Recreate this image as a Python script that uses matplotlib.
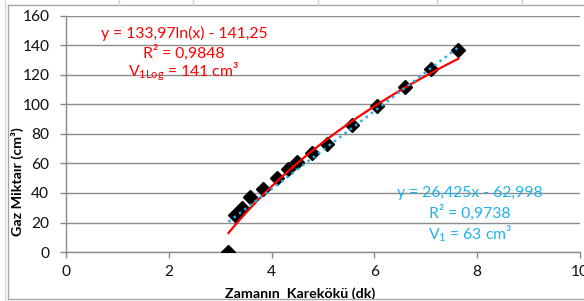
import numpy as np
import matplotlib.pyplot as plt
from matplotlib.lines import Line2D

plt.rcParams['font.family'] = ['Lato', 'DejaVu Sans']

# --- DATA ---
sqrt_t = [3.16, 3.29, 3.43, 3.58, 3.84, 4.10, 4.31, 4.50, 4.78, 5.07,
          5.56, 6.06, 6.60, 7.10, 7.63]
gas = [0, 25, 30, 37, 43, 50, 56, 61, 67, 73, 86, 99, 112, 124, 137]

# trendline coefficients as printed on the chart
LOG_A, LOG_B = 133.97, -141.25
LIN_A, LIN_B = 26.425, -62.998

x_ticks = [0, 2, 4, 6, 8, 10]
y_ticks = [0, 20, 40, 60, 80, 100, 120, 140, 160]

RED = '#FF0000'
BLUE = '#1FB1EA'
W, H = 584, 301

fig = plt.figure(figsize=(W / 100, H / 100), dpi=100)
ax = fig.add_axes([66 / W, (H - 252) / H, (580 - 66) / W, (252 - 16) / H])

# trendlines
xs = np.linspace(min(sqrt_t), max(sqrt_t), 200)
ax.plot(xs, LOG_A * np.log(xs) + LOG_B, '-', color=RED, lw=1.6, zorder=4)
ax.plot(xs, LIN_A * xs + LIN_B, ':', color=BLUE, lw=1.8, zorder=5)

# data points
ax.plot(sqrt_t, gas, 'D', color='black', ms=6.8, zorder=3, ls='none')

ax.set_xlim(0, 10)
ax.set_ylim(0, 160)
ax.set_xticks(x_ticks)
ax.set_yticks(y_ticks)
ax.tick_params(axis='both', labelsize=11.2, color='#888888', length=4,
               width=1, labelcolor='#111111')
ax.tick_params(axis='x', pad=5)
ax.tick_params(axis='y', pad=8)

ax.grid(axis='y', color='#8c8c8c', lw=1)
ax.set_axisbelow(True)
for s in ['top', 'right']:
    ax.spines[s].set_visible(False)
for s in ['left', 'bottom']:
    ax.spines[s].set_color('#8c8c8c')
    ax.spines[s].set_linewidth(1)

ax.set_xlabel('Zamanın  Karekökü (dk)', fontsize=10.3, fontweight='bold')
ax.xaxis.set_label_coords(0.455, -0.15)
ax.set_ylabel('Gaz Miktaır (cm³)', fontsize=10.3, fontweight='bold')
ax.yaxis.set_label_coords(-0.082, 0.30)

# equation labels
def px(xp, yp):
    return (xp - 66) / 514, (252 - yp) / 236

red_lines = ['y = 133,97ln(x) - 141,25', 'R² = 0,9848',
             'V$_\\mathregular{1Log}$ = 141 cm³']
for line, yp in zip(red_lines, [33, 53, 72]):
    ax.text(*px(184, yp), line, color=RED, fontsize=11.3, ha='center',
            va='center', transform=ax.transAxes)

blue_lines = ['y = 26,425x - 62,998', 'R² = 0,9738',
              'V$_\\mathregular{1}$ = 63 cm³']
for line, yp in zip(blue_lines, [193, 213, 234]):
    ax.text(*px(470, yp), line, color=BLUE, fontsize=11.3, ha='center',
            va='center', transform=ax.transAxes)

# chart frame and sheet cell lines around it
def fline(x0, y0, x1, y1, c='#bdbdbd', lw=1):
    fig.add_artist(Line2D([x0 / W, x1 / W], [1 - y0 / H, 1 - y1 / H],
                          color=c, lw=lw, transform=fig.transFigure))

fline(8, 5, 584, 5, c='#a6a6a6')
fline(8, 5, 8, 299, c='#a6a6a6')
fline(5, 0, 5, 301, c='#d9d9d9')
fline(8, 299, 584, 299, c='#a6a6a6')
for xc in [119, 193, 318, 437, 522]:
    fline(xc, 0, xc, 5, c='#d0d0d0')

fig.savefig('out.png', dpi=100)
